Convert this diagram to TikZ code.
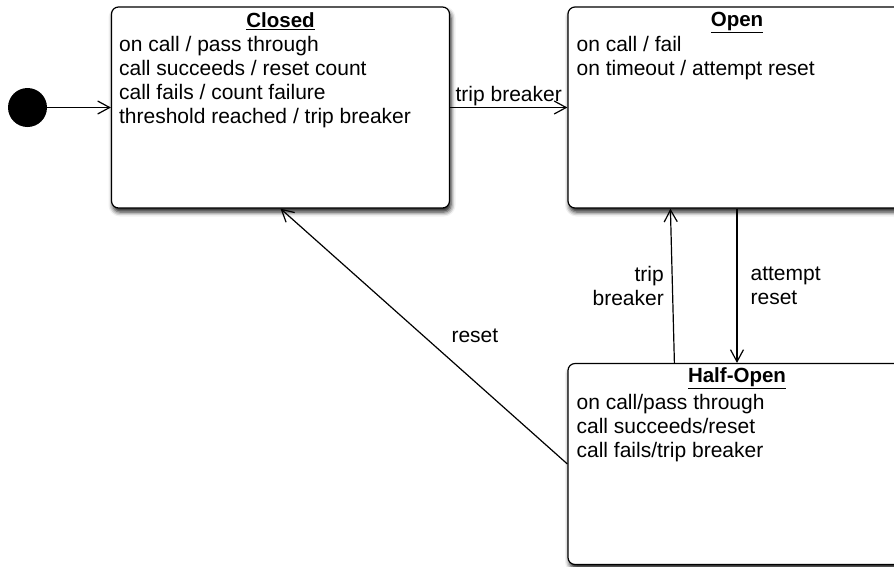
\documentclass[tikz,border=0pt]{standalone}
\usepackage{fontspec}
\setmainfont{Liberation Sans}
\usetikzlibrary{positioning,arrows.meta,shadows.blur,calc}

\tikzset{
  state/.style={draw, line width=1.2pt, rounded corners=7pt, fill=white,
    minimum width=338pt, minimum height=201pt,
    blur shadow={shadow xshift=1.5pt, shadow yshift=-4pt, shadow blur radius=4.5pt, shadow opacity=90}},
  title/.style={anchor=north, inner sep=0pt, font=\fontsize{20.5}{24}\selectfont\bfseries},
  body/.style={align=left, inner sep=0pt, font=\fontsize{21}{24}\selectfont},
  lbl/.style={inner sep=0pt, font=\fontsize{21}{24}\selectfont},
  trans/.style={line width=1.2pt, -{Straight Barb[length=12pt,width=13pt]}}
}

\begin{document}
\begin{tikzpicture}[x=1pt,y=-1pt]
  \clip (0,0) rectangle (894,566);

  % states
  \node[circle, fill, minimum size=39pt, inner sep=0pt] (init) at (27.5,107.5) {};
  \node[state] (closed) at (280.5,107.5) {};
  \node[state] (open) at (737,107.5) {};
  \node[state] (halfopen) at (737,464) {};

  \node[title, below=6pt of closed.north] {\underline{Closed}};
  \node[body, below right=30pt and 8pt of closed.north west] {on call / pass through\\
    call succeeds / reset count\\call fails / count failure\\threshold reached / trip breaker};

  \node[title, below=6pt of open.north] {\underline{Open}};
  \node[body, below right=30pt and 9pt of open.north west] {on call / fail\\on timeout / attempt reset};

  \node[title, below=5pt of halfopen.north] {\underline{Half-Open}};
  \node[body, below right=31pt and 9pt of halfopen.north west] {on call/pass through\\
    call succeeds/reset\\call fails/trip breaker};

  % transitions
  \draw[trans] (init) -- (closed);
  \draw[trans] (closed) -- node[lbl, above=1pt] {trip breaker} (open);
  \draw[trans] (open) -- node[lbl, right=13pt, align=left] {attempt\\reset} (halfopen);
  \draw[trans] ($(halfopen.north west)+(107,0)$) -- node[lbl, left=8pt, align=right] {trip\\breaker} ($(open.south west)+(103,0)$);
  \draw[trans] (halfopen.west) -- node[lbl, right=27pt] {reset} (closed.south);
\end{tikzpicture}
\end{document}
